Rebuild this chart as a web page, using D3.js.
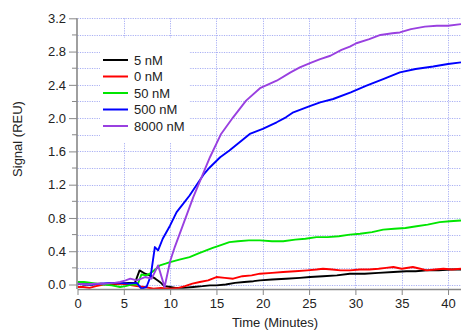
<!DOCTYPE html>
<html>
<head>
<meta charset="utf-8">
<script src="https://cdn.jsdelivr.net/npm/d3@7"></script>
<style>
  body { margin: 0; background: #fff; }
  svg text { font-family: Arial, "Liberation Sans", sans-serif; fill: #222; }
  .grid line { stroke: #aab0f4; stroke-dasharray: 1.2,1.2; stroke-width: 1; }
  .axis path, .axis line { stroke: #888; }
  .axis path { stroke-width: 1.6; }
  .axis text { font-size: 13px; fill: #222; }
  .series { fill: none; stroke-width: 1.9; stroke-linejoin: round; }
</style>
</head>
<body>
<script>
// series values, [minutes, REU]
var nM5 = [[0,0.01],[0.7,0.0],[1.5,0.0],[2.5,0.01],[3.5,0.0],[4.5,0.01],[5.5,0.02],[6.2,0.02],[6.7,0.17],[7.3,0.13],[7.8,0.11],[8.4,0.07],[9.0,0.02],[9.4,-0.02],[10,-0.03],[10.6,-0.04],[11.4,-0.04],[12.5,-0.03],[13.5,-0.02],[14.3,-0.01],[15,-0.01],[16,0.0],[17,0.02],[18,0.03],[19,0.04],[19.7,0.05],[21,0.06],[22.5,0.07],[24,0.08],[25.1,0.09],[26.5,0.1],[28,0.11],[29.4,0.13],[31,0.13],[32.5,0.14],[34.1,0.15],[35.5,0.16],[36.5,0.16],[37.7,0.17],[39,0.17],[40.3,0.18],[41.4,0.18]];
var nM0 = [[0,-0.03],[0.6,-0.03],[1.3,-0.04],[2,-0.02],[2.8,0.0],[3.6,0.01],[4.6,0.01],[5.4,0.0],[6.4,-0.02],[7.2,-0.03],[8.2,-0.05],[9,-0.04],[10,-0.05],[10.9,-0.04],[11.6,-0.02],[12.4,0.01],[13.2,0.03],[14.1,0.05],[15,0.09],[15.9,0.08],[16.8,0.07],[17.8,0.1],[18.8,0.11],[19.7,0.13],[21,0.14],[22.2,0.15],[23.5,0.16],[24.8,0.17],[25.8,0.18],[26.5,0.19],[27.5,0.18],[28.4,0.17],[29.4,0.17],[30.5,0.18],[31.5,0.18],[32.5,0.19],[33.3,0.2],[34.1,0.21],[35,0.19],[36.2,0.21],[37,0.19],[37.7,0.17],[38.6,0.18],[39.5,0.19],[40.4,0.18],[41.4,0.19]];
var nM50 = [[0,0.03],[0.7,0.03],[1.5,0.02],[2.8,0.0],[3.7,-0.01],[4.6,-0.03],[5.2,-0.02],[5.8,0.0],[6.5,0.0],[6.9,0.12],[7.4,0.11],[7.8,0.13],[8.5,0.19],[8.9,0.23],[9.5,0.25],[10,0.27],[11,0.3],[12.1,0.33],[13,0.37],[13.9,0.41],[14.6,0.44],[15.4,0.47],[16.4,0.51],[17.3,0.52],[18.5,0.53],[19.7,0.53],[21,0.52],[22.2,0.52],[23.5,0.54],[24.6,0.55],[25.8,0.57],[27,0.57],[28.2,0.58],[29.4,0.6],[30.5,0.61],[31.8,0.63],[33,0.66],[34.2,0.67],[35.4,0.68],[36.6,0.7],[37.8,0.72],[39.1,0.75],[40.2,0.76],[41.4,0.77]];
var nM500 = [[0,0.01],[0.8,0.0],[1.6,0.0],[2.5,0.01],[3.5,0.02],[4.5,0.02],[5.5,0.01],[6.4,0.02],[6.9,-0.05],[7.45,-0.03],[7.9,0.1],[8.35,0.45],[8.7,0.41],[9.2,0.55],[10,0.71],[10.7,0.87],[11.4,0.97],[12.1,1.07],[13,1.22],[13.6,1.32],[14.3,1.41],[15.4,1.53],[16.4,1.61],[17.5,1.71],[18.6,1.81],[20,1.87],[21.5,1.95],[22.5,2.01],[23.3,2.07],[25,2.14],[26.2,2.19],[27.6,2.23],[29.5,2.31],[31.2,2.39],[33,2.47],[34.8,2.55],[36.5,2.59],[38.4,2.62],[40,2.65],[41.4,2.67]];
var nM8000 = [[0,0.01],[1,0.0],[2,0.01],[3,0.01],[4,0.02],[4.6,0.03],[5.2,0.05],[5.7,0.07],[6.4,0.05],[7.3,0.09],[8,0.07],[8.7,0.23],[9.4,-0.03],[10,0.28],[10.5,0.45],[11,0.6],[11.5,0.75],[12,0.9],[12.5,1.05],[13.4,1.29],[14.3,1.53],[15.5,1.81],[16.8,2.01],[18.2,2.21],[19.7,2.36],[21.5,2.45],[23,2.55],[24,2.61],[25.1,2.66],[26.2,2.71],[27.3,2.75],[28.5,2.82],[29.4,2.86],[30.1,2.9],[31.5,2.95],[32.7,3.0],[34,3.02],[34.8,3.03],[36,3.07],[37.5,3.1],[38.8,3.11],[40,3.11],[41.4,3.13]];

var seriesNames = ["5 nM", "0 nM", "50 nM", "500 nM", "8000 nM"];
var seriesData = [nM5, nM0, nM50, nM500, nM8000];
var seriesColors = ["#000000", "#ff0000", "#00e600", "#0000ff", "#9940e0"];

var xTicks = [0, 5, 10, 15, 20, 25, 30, 35, 40];
var yTicks = [0.0, 0.4, 0.8, 1.2, 1.6, 2.0, 2.4, 2.8, 3.2];
var yMinor = [0.2, 0.6, 1.0, 1.4, 1.8, 2.2, 2.6, 3.0];

var W = 461, H = 331;
var plotL = 77.5, plotR = 461, plotT = 18.3, plotB = 289;

var xScale = d3.scaleLinear().domain([0, 41.4]).range([plotL, plotR]);
var yScale = d3.scaleLinear().domain([-0.054, 3.2]).range([plotB, plotT]);

var svg = d3.select("body").append("svg")
    .attr("width", W)
    .attr("height", H);

svg.append("defs").append("clipPath").attr("id", "plotclip")
  .append("rect")
    .attr("x", plotL).attr("y", plotT - 2)
    .attr("width", plotR - plotL).attr("height", plotB - plotT + 2);

// grid
var grid = svg.append("g").attr("class", "grid");
grid.selectAll(".gy")
    .data(yTicks.concat(yMinor)).enter()
    .append("line")
    .attr("x1", plotL).attr("x2", plotR)
    .attr("y1", function(d) { return Math.round(yScale(d)) + 0.5; })
    .attr("y2", function(d) { return Math.round(yScale(d)) + 0.5; });
grid.selectAll(".gx")
    .data(xTicks.slice(1)).enter()
    .append("line")
    .attr("y1", plotT).attr("y2", plotB)
    .attr("x1", function(d) { return Math.round(xScale(d)) + 0.5; })
    .attr("x2", function(d) { return Math.round(xScale(d)) + 0.5; });

// legend box covers the grid
svg.append("rect")
    .attr("x", 100).attr("y", 38)
    .attr("width", 89).attr("height", 104)
    .attr("fill", "#fff");

// curves
var line = d3.line()
    .x(function(d) { return xScale(d[0]); })
    .y(function(d) { return yScale(d[1]); });

svg.append("g").attr("clip-path", "url(#plotclip)")
  .selectAll("path")
    .data(seriesData).enter()
    .append("path")
    .attr("class", "series")
    .attr("stroke", function(d, i) { return seriesColors[i]; })
    .attr("d", line);

// axes
svg.append("g")
    .attr("class", "x axis")
    .attr("transform", "translate(0," + plotB + ")")
    .call(d3.axisBottom(xScale).tickValues(xTicks).tickSize(6).tickPadding(4).tickSizeOuter(0).tickFormat(d3.format("d")));

var yAxis = svg.append("g")
    .attr("class", "y axis")
    .attr("transform", "translate(" + (plotL - 0.5) + ",0)")
    .call(d3.axisLeft(yScale).tickValues(yTicks).tickSize(8).tickPadding(3).tickSizeOuter(0).tickFormat(d3.format(".1f")));
yAxis.selectAll(".minor")
    .data(yMinor).enter()
    .append("line")
    .attr("class", "minor")
    .attr("x1", -5).attr("x2", 0)
    .attr("y1", function(d) { return yScale(d); })
    .attr("y2", function(d) { return yScale(d); });
yAxis.select(".domain").attr("d", "M0," + plotB + "V" + plotT);

// labels
svg.append("text")
    .attr("x", 275).attr("y", 327)
    .style("text-anchor", "middle")
    .style("font-size", "13px")
    .text("Time (Minutes)");

svg.append("text")
    .attr("transform", "translate(22,139) rotate(-90)")
    .style("text-anchor", "middle")
    .style("font-size", "13px")
    .text("Signal (REU)");

// legend
var leg = svg.append("g").selectAll("g")
    .data(seriesNames).enter()
    .append("g")
    .attr("transform", function(d, i) { return "translate(103," + (60 + i * 16.5) + ")"; });
leg.append("line")
    .attr("x1", 0).attr("x2", 25)
    .attr("stroke", function(d, i) { return seriesColors[i]; })
    .attr("stroke-width", 2);
leg.append("text")
    .attr("x", 31).attr("dy", "0.35em")
    .style("font-size", "13px")
    .text(function(d) { return d; });
</script>
</body>
</html>
